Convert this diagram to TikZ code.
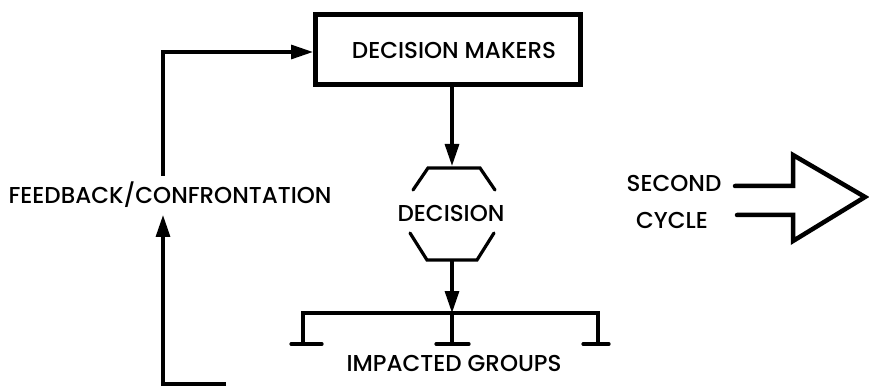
\documentclass[tikz,border=0pt]{standalone}
\usepackage{fontspec}
\setmainfont{Poppins}[UprightFont=* Medium]
\usetikzlibrary{arrows.meta}
\begin{document}
\begin{tikzpicture}[x=1pt,y=-1pt,
  lbl/.style={font=\fontsize{23}{26}\selectfont, inner sep=0pt, anchor=center},
  ln/.style={line width=3.2pt},
  arr/.style={ln, -{Triangle[length=22pt,width=14pt]}},
  boxstyle/.style={draw, line width=5pt, minimum width=265pt, minimum height=70pt, inner sep=0pt}]
\useasboundingbox (0,0) rectangle (869,387);
% Decision makers
\node[boxstyle] (dm) at (448,50) {};
\node[lbl] (dmt) at (454,50) {DECISION MAKERS};
% Feedback
\node[lbl] (fb) at (170,195) {FEEDBACK/CONFRONTATION};
\coordinate (fbbot) at (226,384);
\coordinate (fblow) at (163,215);
\coordinate (fbhigh) at (163,176);
\draw[arr] (fbbot) -| (fblow);
\draw[arr] (fbhigh) |- (dm.west |- 0,52);
% Decision
\node[lbl] (dec) at (451,213) {DECISION};
\coordinate (dectop) at (452,166);
\coordinate (decbot) at (452,260);
\draw[arr] (dm.south -| 452,0) -- (dectop);
\draw[ln, line cap=round] (413,190) -- (428,168) -- (480,168) -- (495,190);
\draw[ln, line cap=round] (410,233) -- (427,260) -- (477,260) -- (494,233);
% Impacted groups
\coordinate (bar) at (452,313);
\draw[arr] (decbot) -- (bar);
\draw[ln] (303,344) -- (303,313) -- (598,313) -- (598,344);
\draw[ln] (452,313) -- (452,344);
\draw[ln, line cap=round] (291,344) -- (322,344);
\draw[ln, line cap=round] (436,344) -- (469,344);
\draw[ln, line cap=round] (583,344) -- (609,344);
\node[lbl] (ig) at (454,363) {IMPACTED GROUPS};
% Second cycle
\node[lbl] (sec) at (674,183) {SECOND};
\node[lbl] (cyc) at (672,220) {CYCLE};
\draw[line width=4.5pt, line cap=round, line join=miter]
  (735,186) -- (793,186) -- (793,155) -- (865,197) -- (793,241) -- (793,215) -- (737,215);
\end{tikzpicture}
\end{document}
